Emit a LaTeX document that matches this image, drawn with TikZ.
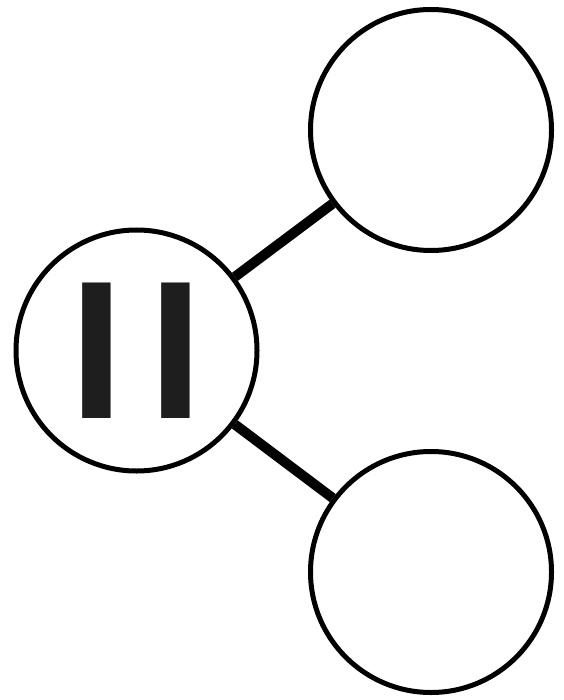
\documentclass[tikz,border=0pt]{standalone}
\usepackage{fontspec}
\newfontfamily\bondfont{Liberation Sans}
\usepackage{xcolor}
\usetikzlibrary{positioning}
\definecolor{bargray}{HTML}{1E1E1E}

\begin{document}
\begin{tikzpicture}[x=1pt, y=-1pt, every node/.style={align=center},
  bond/.style={draw, circle, line width=5pt, fill=white, minimum size=241pt, inner sep=0pt},
  link/.style={line width=10pt}]
\useasboundingbox (0,0) rectangle (563,700);
\node[bond, text=bargray, font=\bondfont\bfseries\fontsize{197}{197}\selectfont] (whole) at (136.5,350.5) {I\hspace{24.5pt}I};
\node[bond] (parta) at (431,130) {};
\node[bond] (partb) at (431,572) {};
\draw[link] (whole) -- (parta);
\draw[link] (whole) -- (partb);
\end{tikzpicture}
\end{document}
